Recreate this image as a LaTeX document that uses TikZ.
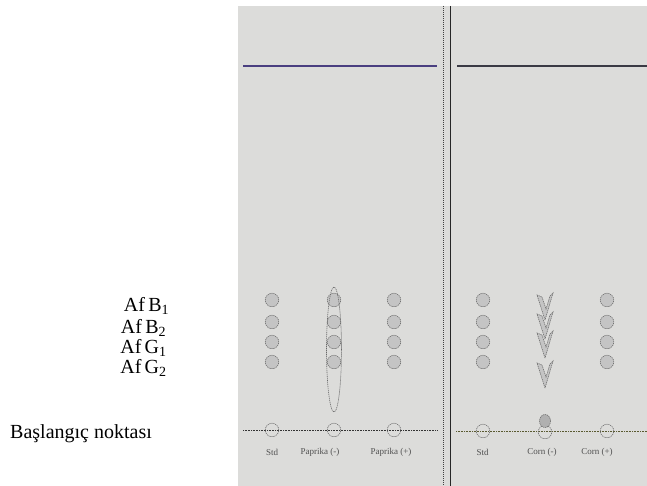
\documentclass[tikz,border=0pt]{standalone}
\usepackage{fontspec}
\setmainfont{Liberation Serif}
\definecolor{plate}{HTML}{DCDCDA}
\definecolor{spotgray}{HTML}{C4C4C4}
\definecolor{edgegray}{HTML}{6A6A6A}
\definecolor{lanegray}{HTML}{505050}
\definecolor{topleft}{HTML}{4A3F80}
\definecolor{topright}{HTML}{3A3A44}
\definecolor{baseright}{HTML}{5A5A30}
\begin{document}
\begin{tikzpicture}[x=1pt,y=-1pt,
  spot/.style={circle,minimum size=13.5pt,inner sep=0pt,fill=spotgray,draw=edgegray,line width=0.6pt,dash pattern=on 1.2pt off 0.8pt},
  origin/.style={circle,minimum size=13.5pt,inner sep=0pt,draw=edgegray,line width=0.6pt,dash pattern=on 1.2pt off 0.8pt},
  dashedge/.style={draw=edgegray,line width=0.6pt,dash pattern=on 1.2pt off 0.8pt},
  lane/.style={font=\fontsize{9}{10}\selectfont,text=lanegray,inner sep=0pt},
  side/.style={font=\fontsize{20}{22}\selectfont,inner sep=0pt,anchor=base},
  chev/.pic={\filldraw[fill=spotgray,dashedge] (0,0) -- (-8,-25) -- (-3,-23) -- (1,-11) -- (5,-24) -- (8,-27) -- cycle;}
]
\useasboundingbox (0,0) rectangle (647,486);
\fill[plate] (238,6) rectangle (647,486);
% lane separators
\draw[black!75,line width=0.9pt,dash pattern=on 1pt off 1pt] (443,6) -- (443,486);
\draw[black!85,line width=1pt] (450,6) -- (450,486);
% solvent fronts
\draw[topleft,line width=1.1pt] (243,66) -- (437,66);
\draw[topright,line width=1.1pt] (457,66) -- (647,66);
% origin lines
\draw[black!80,line width=0.8pt,dash pattern=on 0.8pt off 0.8pt] (243,430) -- (437,430);
\draw[baseright,line width=0.8pt,dash pattern=on 0.8pt off 0.8pt] (456,431) -- (647,431);
% standard spots
\foreach \x/\n in {272/a,394/c,483/d,607/f}{
  \foreach \y/\m in {300/1,322/2,342/3,362/4}{
    \node[spot] (s\n\m) at (\x,\y) {};
  }
}
\foreach \y/\m in {300/1,322/2,342/3,362/4}{
  \node[spot] (sb\m) at (334,\y) {};
}
% paprika (-) streak
\draw[dashedge] (334,349.5) ellipse (7.5 and 62.5);
% corn (-) chevrons
\pic at (545,320) {chev};
\pic at (545,339) {chev};
\pic at (545,358) {chev};
\pic at (545,388) {chev};
% origin circles
\node[origin] (oa) at (272,430) {};
\node[origin] (ob) at (334,430) {};
\node[origin] (oc) at (394,430) {};
\node[origin] (od) at (483,431) {};
\node[origin] (oe) at (545,432) {};
\node[origin] (of) at (607,431) {};
\filldraw[fill=spotgray!90!black,dashedge] (545,421) ellipse (5.5 and 6.5);
% lane labels
\node[lane] (la) at (272,452) {Std};
\node[lane] (lb) at (320,452) {Paprika (-)};
\node[lane] (lc) at (391,452) {Paprika (+)};
\node[lane] (ld) at (482.5,452) {Std};
\node[lane] (le) at (542,452) {Corn (-)};
\node[lane] (lf) at (597,452) {Corn (+)};
% side labels
\node[side] (b1) at (146.5,311) {Af\,B\textsubscript{1}};
\node[side] (b2) at (143.5,333) {Af\,B\textsubscript{2}};
\node[side] (g1) at (143.5,353) {Af\,G\textsubscript{1}};
\node[side] (g2) at (143.5,373) {Af\,G\textsubscript{2}};
\node[side,anchor=base west] (start) at (10,438) {Başlangıç noktası};
\end{tikzpicture}
\end{document}
